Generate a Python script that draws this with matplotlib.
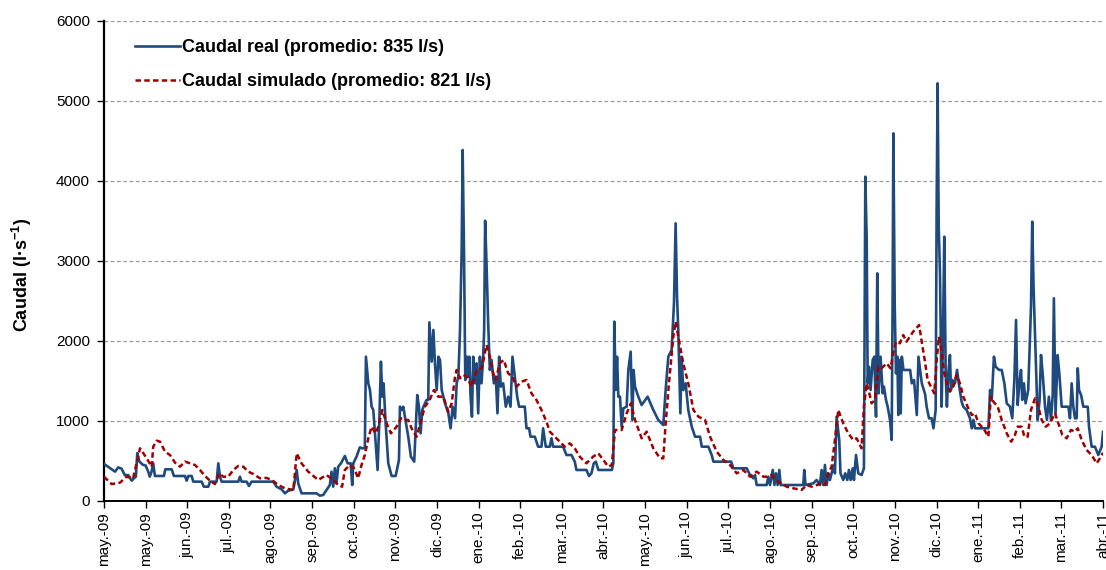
import matplotlib
matplotlib.use("Agg")
import matplotlib.pyplot as plt
import numpy as np

# Días transcurridos desde el 1 de mayo de 2009 y caudal diario (l/s)
dias_real = [
    0, 8, 10.3, 12.7, 15, 17.5, 20, 21.6, 23, 24, 25.5, 27.9, 30, 31.9, 33, 34.3, 35.5, 36.7,
    43.2, 44.2, 48.8, 50.4, 58.4, 59.6, 60.8, 63.2, 64.4, 70.4, 72, 75.2, 76.4, 81.2, 82.4,
    83.6, 84.8, 96.8, 98, 99.2, 102.8, 104.5, 106.4, 122, 124.4, 128, 130.4, 132.8, 136.5,
    138.9, 140, 142.4, 153.2, 155.6, 158, 160.4, 162.8, 164, 165.2, 166.4, 167.6, 168.8,
    170.8, 173.6, 175.6, 177.8, 178.9, 179.7, 182, 184.4, 186.2, 188, 188.8, 190.5, 191.7,
    192.9, 194.1, 195.8, 197.2, 198.4, 199.6, 200.6, 201.5, 203, 204.9, 207.3, 210.2, 212.6,
    213.3, 214.5, 215.7, 216.9, 219.3, 221.2, 223.6, 224.6, 225.8, 227, 228.2, 229.4, 230.8,
    232.5, 233.7, 234.5, 236.2, 237.4, 238.6, 239.8, 241, 242.2, 243.4, 245.8, 248.2, 249.8,
    251.3, 253, 254.2, 255.4, 256.6, 257.8, 258.5, 259.5, 260.4, 261.4, 262.3, 263.3, 264.2,
    265.2, 266.1, 267.5, 268.5, 269.7, 270.9, 272.1, 273.3, 274, 274.7, 275.7, 276.9, 278.1,
    279.3, 281, 282.4, 283.6, 284.8, 286, 287.7, 289.6, 291.3, 293, 294.4, 296.1, 297.8,
    299.2, 303.3, 304.5, 306.4, 307.4, 310.5, 312.9, 315.3, 316.5, 318.4, 321.3, 322.5,
    323.7, 330.9, 333.3, 336.9, 339.3, 340.5, 347.7, 349.6, 351.3, 353, 354.5, 356.3, 366,
    367.1, 367.8, 368.8, 369.8, 370.7, 371.9, 373.1, 374.3, 376.7, 377.9, 379.6, 380.8,
    381.7, 382.7, 385.1, 387.5, 391.8, 395.9, 399.5, 403.1, 404.8, 406.7, 409.1, 410.8, 412,
    413, 413.9, 415.4, 416.3, 417.5, 419.2, 421.1, 423.6, 426, 429.6, 430.8, 435.6, 438,
    439.2, 452, 453.6, 463.2, 465.6, 468, 469.2, 470.4, 477.6, 478.8, 480, 482, 483.2, 484.3,
    485.5, 486.7, 487.7, 504, 504.7, 505.6, 511.2, 513.6, 516, 517.2, 518.4, 519.6, 520.8,
    522, 523.2, 524.4, 526, 526.8, 528, 529.9, 530.8, 532.8, 534.2, 535.7, 536.9, 538.1,
    539.6, 540.5, 542, 543.6, 546, 547.7, 548.7, 549.7, 550.4, 551.3, 552.5, 554, 555.2,
    556.4, 557.3, 558.3, 559.7, 561.2, 562.1, 563.6, 564.8, 566.5, 567.7, 568.4, 568.9,
    569.9, 570.8, 571.8, 572.5, 573.3, 574.2, 575, 576.2, 581, 582.2, 583.8, 585.8, 587,
    589.4, 591.8, 592.9, 594.6, 596.5, 597.8, 599.4, 600.1, 600.8, 601.6, 602.5, 603.7,
    604.7, 605.6, 606.6, 607.5, 608.5, 609.7, 610.4, 611.4, 613.3, 614.8, 616.4, 618.1,
    619.3, 621.7, 624.1, 625.4, 626.6, 627.8, 637.4, 638.6, 639.8, 641.4, 642.6, 645.1, 647,
    648.9, 650.6, 653, 654.6, 656.1, 657.3, 658.5, 659.7, 660.9, 661.8, 663, 664.2, 666.1,
    668.1, 669, 670, 671.5, 672.9, 674.3, 675.3, 676.7, 678.2, 679.6, 681, 682.5, 683.7,
    684.6, 685.8, 687.3, 688.5, 690.2, 695, 696.2, 697.4, 698.6, 699.8, 701, 701.8, 702.7,
    704.2, 705.8, 709, 709.9, 711.8, 714.2, 716.6, 719, 720,
]
caudal_real = [
    460, 363, 416, 400, 320, 320, 250, 280, 300, 595, 490, 450, 440, 363, 300, 363, 467, 309,
    309, 392, 392, 309, 309, 250, 309, 309, 238, 238, 175, 175, 238, 238, 467,
    300, 238, 238, 300, 238, 238, 184, 238, 238, 175, 142, 92, 125, 142,
    384, 217, 92, 92, 63, 71, 133, 196, 363, 175, 405, 217, 425,
    467, 559, 467, 467, 196, 467, 550, 667, 655, 655, 1800, 1467, 1384,
    1175, 1134, 717, 384, 967, 1738, 1300, 1467, 967, 467, 309, 309, 509,
    1175, 1134, 1175, 1050, 800, 550, 488, 883, 1321, 1175, 842, 1134, 1196,
    1259, 1259, 2230, 1738, 2134, 1696, 1384, 1800, 1759, 1384, 1217, 1092, 905,
    1175, 1030, 1467, 1550, 2134, 3134, 4384, 3092, 1509, 1800, 1550, 1800, 1300,
    1050, 1800, 1467, 1717, 1092, 1800, 1467, 1800, 2134, 3500, 2967, 2217, 1634,
    1759, 1467, 1550, 1092, 1800, 1425, 1467, 1175, 1300, 1175, 1800, 1550, 1300,
    1175, 1175, 905, 905, 800, 800, 675, 675, 905, 675, 675, 780,
    675, 675, 571, 571, 488, 384, 384, 309, 342, 467, 488, 384, 384,
    467, 2238, 1384, 1800, 1300, 1300, 925, 1155, 1175, 1634, 1863, 1009,
    1634, 1425, 1300, 1196, 1300, 1134, 1009, 946, 1384, 1800, 1884, 2467, 3467,
    2550, 2134, 1092, 1800, 1384, 1467, 1134, 925, 800, 800, 675, 675, 571,
    488, 488, 405, 405, 321, 280, 321, 196, 196, 300, 196, 384, 196, 342,
    196, 384, 196, 196, 384, 196, 217, 259, 196, 384, 196, 446, 196,
    342, 259, 342, 446, 342, 1050, 759, 342, 259, 342, 259, 384, 259,
    405, 259, 571, 342, 321, 405, 4050, 3259, 1467, 1675, 1384, 1759, 1800,
    1050, 2842, 1342, 1800, 1342, 1425, 1259, 1175, 1009, 759, 2592, 4592,
    2425, 1592, 1800, 1071, 1759, 1092, 1800, 1634, 1634, 1467, 1509, 1071, 1800,
    1467, 1330, 1175, 1030, 1030, 905, 1134, 3675, 5217, 3425, 2842, 1175,
    2092, 3300, 1592, 1175, 1592, 1821, 1384, 1509, 1467, 1634, 1425, 1238,
    1175, 1134, 1030, 905, 1009, 905, 905, 1384, 1259, 1800, 1675, 1634, 1634,
    1467, 1217, 1175, 1030, 1509, 2259, 1196, 1467, 1634, 1259, 1467, 1217, 1384,
    2425, 3488, 2634, 1800, 1009, 1259, 1821, 1550, 1175, 1009, 1300, 1009, 1300,
    2530, 1092, 1821, 1592, 1175, 1175, 1030, 1467, 1175, 1030, 1030, 1655, 1384,
    1321, 1175, 1175, 925, 675, 675, 571, 675, 860,
]

dias_sim = [
    0, 5.5, 11.5, 16.3, 21, 23.5, 26, 30.8, 34.4, 35.5, 38, 40.4, 44, 47.6, 51.2, 54.8, 58.4,
    62, 65.6, 69.2, 72.8, 76.4, 80, 83.1, 86, 89.6, 93.2, 96.8, 100.4, 104, 107.6, 112.4,
    117, 121, 125.6, 130.4, 136.5, 138.9, 142.4, 147.2, 154.4, 160.4, 165.2, 168.8, 171.6,
    173.6, 177.2, 180.3, 183.2, 185.6, 188, 190.5, 192.9, 195.8, 197.7, 200.6, 203.7, 206.8,
    210.9, 214, 216.9, 219.3, 221.7, 225.3, 228.9, 231.3, 234.5, 237.8, 240.9, 244.5, 248.2,
    250.6, 253, 254.2, 256.6, 259, 261.4, 265, 268.5, 272.1, 274, 275.7, 278.1, 280.5, 282.4,
    285.2, 288.1, 291.3, 294.4, 297.3, 300.9, 304.5, 308.1, 311.7, 315.3, 318.9, 321.3, 324.9,
    328.5, 332.1, 335.7, 339.3, 342.9, 347.7, 352.5, 356.3, 359.9, 363.5, 366, 368.3, 373.1,
    376.7, 379.8, 382.7, 387.5, 391.1, 395.9, 400.7, 403.1, 404.8, 407.2, 410.3, 412, 413.9,
    417.5, 421.1, 424.8, 428.4, 433.2, 436.8, 441.6, 446.4, 451.2, 456, 460.8, 465.6, 470.4,
    475.2, 477.6, 481.2, 486, 492, 496.8, 502.8, 506.4, 510, 513.6, 517.2, 519.6, 522, 524.4,
    526.8, 529.2, 532.8, 536.4, 540, 542.4, 546, 547.7, 549.7, 551.6, 553.2, 555.6, 558,
    560.4, 564, 566.9, 568.8, 570.8, 573.6, 576, 578.4, 580.8, 583.2, 587.5, 589.9, 591.5,
    593.6, 596, 598.4, 600.1, 601.8, 603.7, 605.6, 607.5, 609.7, 612.1, 614.5, 616.9, 619.3,
    622.4, 625.4, 627.8, 630.2, 633.8, 637.4, 639.1, 641, 644.1, 647, 650.6, 653.8, 656.1,
    658.5, 661.4, 663.3, 665.7, 668.1, 671, 673.4, 675.8, 678.7, 681.8, 685.4, 687.8, 690.7,
    693.8, 696.9, 699.8, 701.8, 704.6, 708.2, 711.8, 715.4, 718.6, 720,
]
caudal_sim = [
    300, 208, 225, 300, 280, 467, 655, 530, 425, 675, 750, 738, 613, 571, 475, 425, 488,
    467, 446, 384, 309, 250, 208, 342, 300, 300, 384, 434, 425, 363, 334, 280,
    285, 259, 196, 155, 133, 592, 467, 363, 259, 321, 259, 196, 175,
    384, 446, 405, 280, 446, 571, 780, 925, 842, 925, 1134, 967, 842,
    925, 1030, 1009, 1009, 904, 800, 1030, 1175, 1250, 1384, 1300, 1300, 1113,
    1217, 1550, 1634, 1530, 1571, 1550, 1425, 1634, 1655, 1800, 1946, 1800, 1592, 1509,
    1717, 1759, 1592, 1550, 1425, 1488, 1509, 1342, 1259, 1134, 988, 863, 800,
    738, 675, 717, 655, 550, 467, 550, 592, 509, 425, 446, 884, 884,
    1092, 1217, 1009, 780, 863, 655, 530, 530, 967, 1467, 2050, 2238, 2050,
    1717, 1467, 1134, 1050, 1009, 800, 613, 509, 446, 342, 384, 300, 363,
    300, 300, 321, 238, 175, 155, 134, 196, 175, 196, 217, 196, 342, 425,
    759, 1134, 967, 842, 759, 780, 655, 1175, 1467, 1342, 1217, 1259, 1675,
    1655, 1717, 1655, 1842, 1988, 1967, 2071, 1988, 2050, 2113, 2196, 1925, 1759,
    1509, 1425, 1342, 1759, 2050, 1863, 1592, 1467, 1363, 1425, 1571, 1467, 1300,
    1175, 1071, 1092, 967, 905, 800, 1300, 1238, 1175, 1009, 842, 738, 800,
    925, 925, 800, 800, 1134, 1280, 1175, 1009, 925, 967, 1092, 967, 821,
    780, 884, 863, 905, 759, 634, 571, 467, 550, 600,
]

etiquetas_x = [
    "may.-09", "may.-09", "jun.-09", "jul.-09", "ago.-09", "sep.-09", "oct.-09", "nov.-09",
    "dic.-09", "ene.-10", "feb.-10", "mar.-10", "abr.-10", "may.-10", "jun.-10", "jul.-10",
    "ago.-10", "sep.-10", "oct.-10", "nov.-10", "dic.-10", "ene.-11", "feb.-11", "mar.-11",
    "abr.-11",
]
paso_ticks = 30  # días entre marcas del eje de fechas
ticks_y = [0, 1000, 2000, 3000, 4000, 5000, 6000]

etiqueta_real = "Caudal real (promedio: 835 l/s)"
etiqueta_sim = "Caudal simulado (promedio: 821 l/s)"

plt.rcParams["font.family"] = ["Liberation Sans", "DejaVu Sans"]
plt.rcParams["mathtext.fontset"] = "custom"
plt.rcParams["mathtext.rm"] = "Liberation Sans:bold"
plt.rcParams["mathtext.default"] = "rm"

fig = plt.figure(figsize=(11.06, 5.70), dpi=100)
ax = fig.add_axes([0.094, 0.1216, 0.9033, 0.8421])

azul = "#1F4A7E"
rojo = "#A00000"

ax.plot(dias_real, caudal_real, color=azul, lw=1.9, solid_joinstyle="round",
        label=etiqueta_real, zorder=3)
ax.plot(dias_sim, caudal_sim, color=rojo, lw=1.8, linestyle=(0, (2.2, 1.3)),
        label=etiqueta_sim, zorder=4)

xt = np.arange(len(etiquetas_x)) * paso_ticks
ax.set_xlim(xt[0], xt[-1])
ax.set_xticks(xt)
ax.set_xticklabels(etiquetas_x, rotation=90, fontsize=11)
ax.set_ylim(0, 6000)
ax.set_yticks(ticks_y)
ax.set_yticklabels([str(v) for v in ticks_y], fontsize=11)

for v in ticks_y[1:]:
    ax.axhline(v, color="#9A9A9A", lw=0.9, linestyle=(0, (3, 2)), zorder=1)

for s in ("top", "right"):
    ax.spines[s].set_visible(False)
ax.spines["left"].set_linewidth(1.6)
ax.spines["bottom"].set_linewidth(1.4)
ax.tick_params(axis="both", direction="out", length=5, width=1.0)
ax.tick_params(axis="y", pad=5)
ax.tick_params(axis="x", pad=3)

ax.set_ylabel(r"Caudal (l·s$^{-1}$)", fontsize=13, fontweight="bold")
ax.yaxis.set_label_coords(-0.07, 0.47)

leg = ax.legend(loc="upper left", bbox_to_anchor=(0.015, 0.995), frameon=False,
                handlelength=2.5, handletextpad=0.1, labelspacing=0.94,
                prop={"family": ["Liberation Sans Narrow", "Liberation Sans", "DejaVu Sans"],
                      "weight": "bold", "size": 13})

fig.savefig("out.png", dpi=100, facecolor="white")
